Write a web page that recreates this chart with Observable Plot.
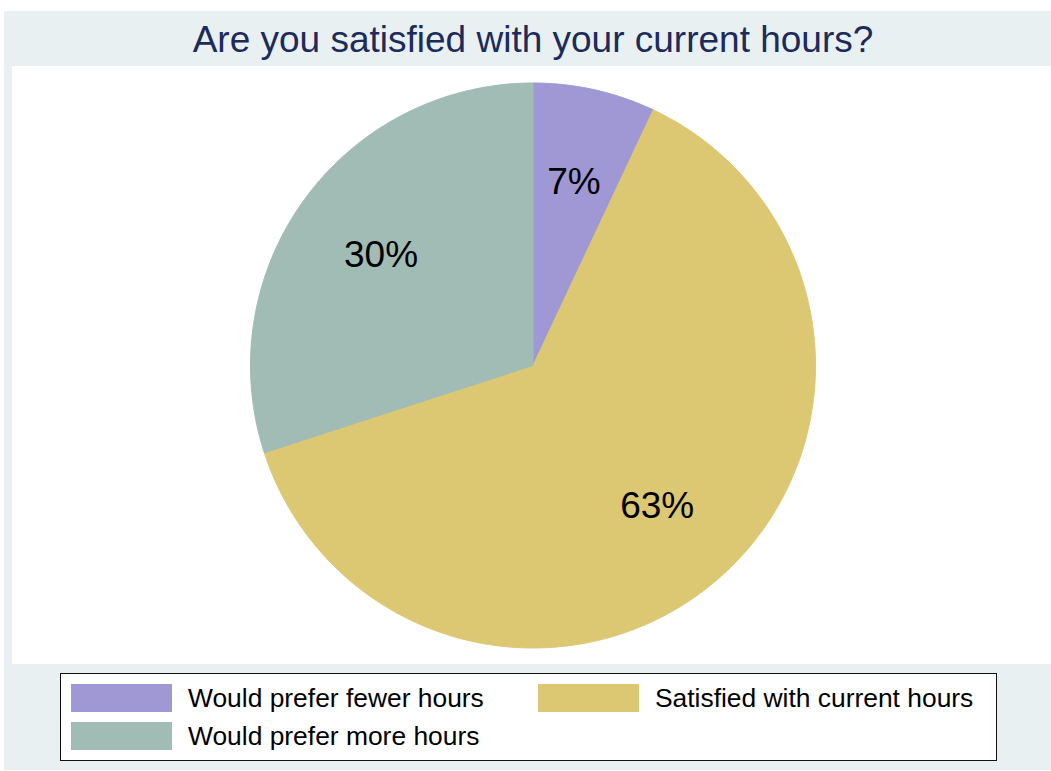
<!DOCTYPE html>
<html>
<head>
<meta charset="utf-8">
<script src="https://cdn.jsdelivr.net/npm/d3@7"></script>
<script src="https://cdn.jsdelivr.net/npm/@observablehq/plot@0.6"></script>
<style>
  html, body { margin: 0; padding: 0; background: #ffffff; width: 1051px; height: 771px; overflow: hidden; }
  body { font-family: "Liberation Sans", Arial, Helvetica, sans-serif; position: relative; }
  #bg { position: absolute; left: 4px; top: 11px; width: 1047px; height: 759px; background: #e8f0f2; }
  #title { position: absolute; left: 4px; top: 14px; width: 1058px; text-align: center; font-size: 37px; color: #1c2b59; line-height: 52px; white-space: nowrap; }
  #plot { position: absolute; left: 12px; top: 66px; width: 1039px; height: 598px; background: #ffffff; }
  #plot svg { display: block; }
  #legend { position: absolute; left: 60px; top: 673px; width: 935px; height: 86px; background: #ffffff; border: 1.5px solid #111; }
  .item { position: absolute; display: flex; align-items: center; font-size: 26.4px; color: #000; white-space: nowrap; height: 28px; }
  .sw { width: 101px; height: 28px; margin-right: 16px; flex: none; }
</style>
</head>
<body>
<div id="bg"></div>
<div id="title"></div>
<div id="plot"></div>
<div id="legend"></div>
<script>
const title = "Are you satisfied with your current hours?";
const categories = ["Would prefer fewer hours", "Satisfied with current hours", "Would prefer more hours"];
const shares = [7, 63, 30];
const pctLabels = ["7%", "63%", "30%"];
const colors = ["#9f98d5", "#dcc873", "#a1bbb5"];

document.getElementById("title").textContent = title;

// Slice geometry from data via d3.pie (clockwise from 12 o'clock)
const arcs = d3.pie().sort(null)(shares);
const wedgePts = [];
arcs.forEach((a, i) => {
  const cat = categories[i];
  wedgePts.push({cat, x: 0, y: 0});
  const n = Math.max(2, Math.ceil((a.endAngle - a.startAngle) / (Math.PI / 360)));
  for (let k = 0; k <= n; k++) {
    const t = a.startAngle + (a.endAngle - a.startAngle) * k / n;
    wedgePts.push({cat, x: Math.sin(t), y: Math.cos(t)});
  }
  wedgePts.push({cat, x: 0, y: 0});
});
const labelPts = arcs.map((a, i) => {
  const m = (a.startAngle + a.endAngle) / 2;
  return {label: pctLabels[i], x: 0.665 * Math.sin(m), y: 0.665 * Math.cos(m)};
});

const W = 1039, H = 598, cx = 520.5, cy = 299, R = 282.5;
const chart = Plot.plot({
  width: W, height: H,
  margin: 0,
  style: {background: "transparent", overflow: "visible"},
  x: {axis: null, domain: [-1, 1], range: [cx - R, cx + R]},
  y: {axis: null, domain: [-1, 1], range: [cy + R, cy - R]},
  color: {domain: categories, range: colors},
  marks: [
    Plot.line(wedgePts, {x: "x", y: "y", z: "cat", fill: "cat", stroke: "cat", strokeWidth: 1, curve: "linear"}),
    Plot.text(labelPts, {x: "x", y: "y", text: "label", fontSize: 37, fill: "#000",
      fontFamily: "Liberation Sans, Arial, Helvetica, sans-serif"})
  ]
});
document.getElementById("plot").appendChild(chart);

// Legend: two columns, items filled row-wise
const legend = document.getElementById("legend");
const pos = [
  {left: 10, top: 10},
  {left: 477, top: 10},
  {left: 10, top: 48}
];
categories.forEach((c, i) => {
  const d = document.createElement("div");
  d.className = "item";
  d.style.left = pos[i].left + "px";
  d.style.top = pos[i].top + "px";
  const sw = document.createElement("div");
  sw.className = "sw";
  sw.style.background = colors[i];
  const tx = document.createElement("span");
  tx.textContent = c;
  d.appendChild(sw);
  d.appendChild(tx);
  legend.appendChild(d);
});
</script>
</body>
</html>
